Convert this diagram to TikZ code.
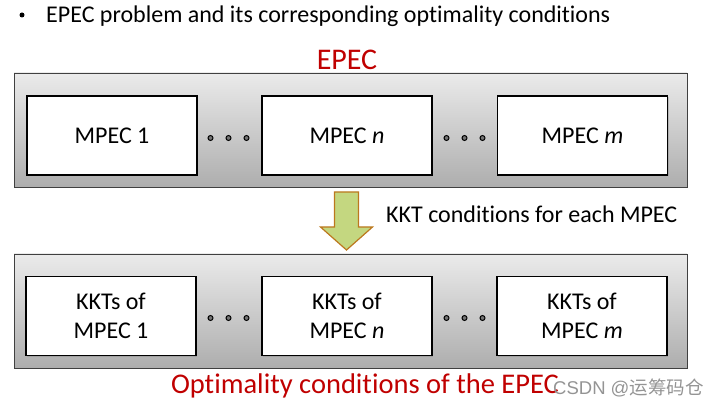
\documentclass[tikz,border=0pt]{standalone}
\usepackage{fontspec}
\setmainfont{Carlito}[Ligatures=NoCommon]
\newfontfamily\cjk{Noto Sans CJK SC}
\newfontfamily\wmfont{Liberation Sans}
\usetikzlibrary{shadows,calc}
\definecolor{epecred}{RGB}{192,0,0}
\definecolor{arrowfill}{RGB}{196,215,128}
\definecolor{arrowdraw}{RGB}{188,120,30}
\tikzset{
  outerbox/.style={draw=black!75, line width=0.9pt, top color=black!8, bottom color=black!32, minimum width=673pt, minimum height=114pt, inner sep=0pt},
  innerbox/.style={draw=black, line width=1.3pt, fill=white, minimum width=170pt, minimum height=79pt, inner sep=0pt, align=center, font=\fontsize{24}{29}\selectfont, drop shadow={shadow xshift=1pt, shadow yshift=-1pt, opacity=0.35}},
  dotc/.style={circle, draw=black, line width=1pt, fill=black!55, inner sep=0pt, minimum size=5pt},
  bulletdot/.style={circle, fill=black, inner sep=0pt, minimum size=5pt},
  redtitle/.style={text=epecred, inner sep=0pt},
  plain/.style={font=\fontsize{24}{28}\selectfont, inner sep=0pt}
}
\begin{document}
\begin{tikzpicture}[x=1pt,y=-1pt]
\useasboundingbox (0,0) rectangle (710,406);
% header
\node[bulletdot] (bul) at (22,15) {};
\node[plain, anchor=west] (head) at (46,16) {EPEC problem and its corresponding optimality conditions};
% top group
\node[redtitle, font=\fontsize{30}{32}\selectfont] (epec) at (347,60) {EPEC};
\node[outerbox] (topbox) at (350.5,130) {};
\node[innerbox] (m1) at (112,135.5) {MPEC 1};
\node[innerbox] (mn) at (347,135.5) {MPEC \textit{n}};
\node[innerbox] (mm) at (582.5,135.5) {MPEC \textit{m}};
\node[dotc] (d1) at (210.5,138) {};
\node[dotc] (d2) at (228.5,138) {};
\node[dotc] (d3) at (246.5,138) {};
\node[dotc] (d4) at (446.5,138) {};
\node[dotc] (d5) at (464.5,138) {};
\node[dotc] (d6) at (482.5,138) {};
% arrow
\coordinate (at) at (346.5,192);
\draw[draw=arrowdraw, line width=1.2pt, fill=arrowfill, line join=miter]
  ($(at)+(-12,0)$) -- ($(at)+(12,0)$) -- ($(at)+(12,35)$) -- ($(at)+(26,35)$) -- ($(at)+(0,58)$) -- ($(at)+(-26,35)$) -- ($(at)+(-12,35)$) -- cycle;
\node[plain, anchor=west] (kkt) at (386,214) {KKT conditions for each MPEC};
% bottom group
\node[outerbox] (botbox) at (350.5,311) {};
\node[innerbox] (k1) at (111,316) {KKTs of\\MPEC 1};
\node[innerbox] (kn) at (347,316) {KKTs of\\MPEC \textit{n}};
\node[innerbox, text depth=-6pt] (km) at (582,316) {KKTs of\\MPEC \textit{m}};
\node[dotc] (e1) at (210.5,318) {};
\node[dotc] (e2) at (228.5,318) {};
\node[dotc] (e3) at (246.5,318) {};
\node[dotc] (e4) at (446.5,318) {};
\node[dotc] (e5) at (464.5,318) {};
\node[dotc] (e6) at (482.5,318) {};
\node[redtitle, font=\fontsize{28.5}{32}\selectfont] (opt) at (365,386) {Optimality conditions of the EPEC};
\node[inner sep=0pt, anchor=west, text=black!42, font=\fontsize{18.5}{20}\selectfont\wmfont] (wm) at (553,388) {CSDN @{\cjk 运筹码仓}};
\end{tikzpicture}
\end{document}
